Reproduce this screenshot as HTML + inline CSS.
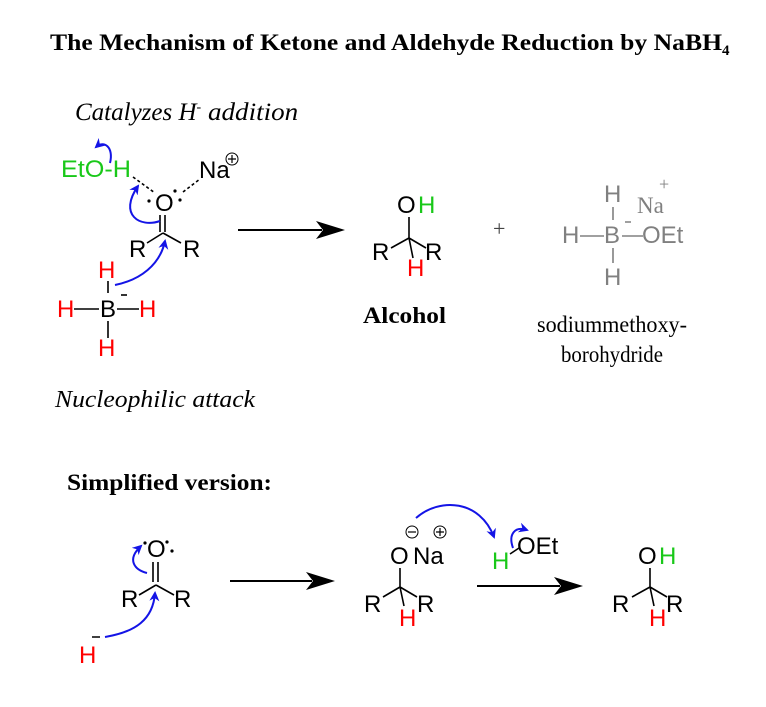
<!DOCTYPE html>
<html><head><meta charset="utf-8"><style>
html,body{margin:0;padding:0;background:#fff;}
svg{display:block;}
.a{font-family:"Liberation Sans",sans-serif;font-size:24px;}
.s{font-family:"Liberation Serif",serif;}
</style></head><body>
<svg width="766" height="707" viewBox="0 0 766 707" xmlns="http://www.w3.org/2000/svg">
<defs>
<marker id="bh" viewBox="0 0 10 10" refX="8" refY="5" markerWidth="5" markerHeight="5" orient="auto"><path d="M0,0 L10,5 L0,10 L3,5 z" fill="#1414e6"/></marker>
</defs>
<text class="s" x="50" y="50" font-size="23" font-weight="bold" textLength="672" lengthAdjust="spacingAndGlyphs">The Mechanism of Ketone and Aldehyde Reduction by NaBH</text>
<text class="s" x="722" y="55" font-size="15" font-weight="bold">4</text>
<text class="s" x="75" y="120" font-size="25" font-style="italic">Catalyzes H<tspan font-size="14" dy="-9">-</tspan><tspan dy="9" textLength="97" lengthAdjust="spacingAndGlyphs"> addition</tspan></text>

<g class="a">
<text x="61" y="177" fill="#19c819" textLength="70" lengthAdjust="spacingAndGlyphs">EtO-H</text>
<text x="199" y="178">Na</text>
<text x="155" y="211">O</text>
<text x="129" y="257">R</text>
<text x="183" y="257">R</text>
<text x="98" y="278" fill="#f00">H</text>
<text x="100" y="317">B</text>
<text x="57" y="317" fill="#f00">H</text>
<text x="139" y="317" fill="#f00">H</text>
<text x="98" y="356" fill="#f00">H</text>
</g>
<circle cx="232" cy="159" r="6" fill="none" stroke="#000" stroke-width="1"/>
<path d="M228,159h8M232,155v8" stroke="#000" stroke-width="1.2"/>
<circle cx="149" cy="201" r="1.6"/><circle cx="175" cy="191" r="1.6"/><circle cx="180" cy="200" r="1.6"/>
<g stroke="#000" stroke-width="1.6" fill="none">
<path d="M133,177 L155,193" stroke-dasharray="3,2.5"/>
<path d="M183,192 L200,179" stroke-dasharray="3,2.5"/>
<path d="M160,215v17M165,215v17"/>
<path d="M163,233 L147,243M163,233 L181,243"/>
<path d="M108,281v12M108,321v17M74,309h25M117,309h22"/>
<path d="M121,295h6"/>
</g>
<g stroke="#1414e6" stroke-width="2" fill="none" marker-end="url(#bh)">
<path d="M160,221 C140,228 118,215 138,186"/>
<path d="M110,163 C114,147 104,140 96,147"/>
<path d="M115,285 C140,280 160,265 165,241"/>
</g>

<path d="M238,230H322" stroke="#000" stroke-width="2"/>
<path d="M345,230 L316,221 L323,230 L316,239z"/>

<g class="a">
<text x="397" y="213">O</text>
<text x="418" y="213" fill="#19c819">H</text>
<text x="372" y="260">R</text>
<text x="425" y="260">R</text>
<text x="407" y="276" fill="#f00">H</text>
</g>
<g stroke="#000" stroke-width="1.6">
<path d="M409,217V238M409,238L391,248M409,238L426,248M409,238L413,258"/>
</g>
<text class="s" x="363" y="323" font-size="23" font-weight="bold" textLength="83" lengthAdjust="spacingAndGlyphs">Alcohol</text>
<text class="s" x="493" y="236" font-size="22" fill="#444">+</text>

<g class="a" fill="#808080">
<text x="604" y="202">H</text>
<text x="604" y="243">B</text>
<text x="562" y="243">H</text>
<text x="642" y="243">OEt</text>
<text x="604" y="285">H</text>
</g>
<text class="s" x="637" y="213" font-size="23" fill="#808080">Na</text>
<text class="s" x="659" y="190" font-size="18" fill="#808080">+</text>
<g stroke="#808080" stroke-width="1.6">
<path d="M613,207V220M613,248V263M580,236H604M622,236H643M625,222h6"/>
</g>
<text class="s" x="537" y="332" font-size="23" textLength="150" lengthAdjust="spacingAndGlyphs">sodiummethoxy-</text>
<text class="s" x="561" y="362" font-size="23" textLength="102" lengthAdjust="spacingAndGlyphs">borohydride</text>

<text class="s" x="55" y="407" font-size="24" font-style="italic" textLength="200" lengthAdjust="spacingAndGlyphs">Nucleophilic attack</text>
<text class="s" x="67" y="490" font-size="23" font-weight="bold" textLength="205" lengthAdjust="spacingAndGlyphs">Simplified version:</text>

<g class="a">
<text x="147" y="557">O</text>
<text x="121" y="607">R</text>
<text x="174" y="607">R</text>
<text x="79" y="663" fill="#f00">H</text>
</g>
<circle cx="145" cy="543" r="1.6"/><circle cx="167" cy="542" r="1.6"/><circle cx="172" cy="551" r="1.6"/>
<g stroke="#000" stroke-width="1.6">
<path d="M153,562V582M158,562V582M156,585L139,595M156,585L174,595M92,637h8"/>
</g>
<g stroke="#1414e6" stroke-width="2" fill="none" marker-end="url(#bh)">
<path d="M147,573 C135,570 126,560 141,546"/>
<path d="M105,637 C135,632 153,620 155,593"/>
</g>

<path d="M230,581H312" stroke="#000" stroke-width="2"/>
<path d="M335,581 L306,572 L313,581 L306,590z"/>

<g class="a">
<text x="390" y="564">O</text>
<text x="413" y="564">Na</text>
<text x="364" y="612">R</text>
<text x="417" y="612">R</text>
<text x="399" y="626" fill="#f00">H</text>
<text x="492" y="569" fill="#19c819">H</text>
<text x="517" y="554">OEt</text>
</g>
<circle cx="412" cy="532" r="6" fill="none" stroke="#000" stroke-width="1"/>
<path d="M408,532h8" stroke="#000" stroke-width="1.2"/>
<circle cx="440" cy="532" r="6" fill="none" stroke="#000" stroke-width="1"/>
<path d="M436,532h8M440,528v8" stroke="#000" stroke-width="1.2"/>
<g stroke="#000" stroke-width="1.6">
<path d="M400,568V587M400,587L383,597M400,587L417,597M400,587L404,606M510,554L519,548"/>
</g>
<g stroke="#1414e6" stroke-width="2" fill="none" marker-end="url(#bh)">
<path d="M416,518 C440,497 480,500 494,537"/>
<path d="M513,548 C508,534 515,526 527,530"/>
</g>

<path d="M477,586H560" stroke="#000" stroke-width="2"/>
<path d="M583,586 L554,577 L561,586 L554,595z"/>

<g class="a">
<text x="638" y="564">O</text>
<text x="659" y="564" fill="#19c819">H</text>
<text x="612" y="612">R</text>
<text x="666" y="612">R</text>
<text x="649" y="626" fill="#f00">H</text>
</g>
<g stroke="#000" stroke-width="1.6">
<path d="M650,568V587M650,587L632,597M650,587L667,597M650,587L654,606"/>
</g>
</svg>
</body></html>
